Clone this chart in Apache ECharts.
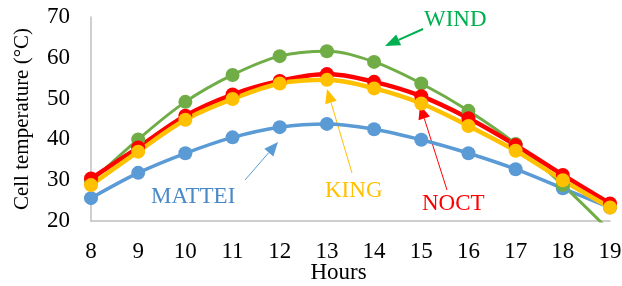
<!DOCTYPE html>
<html>
<head>
<meta charset="utf-8">
<script src="https://cdn.jsdelivr.net/npm/echarts@6/dist/echarts.min.js"></script>
<style>
  html, body { margin: 0; padding: 0; background: #fff; }
  #chart { width: 622px; height: 286px; }
</style>
</head>
<body>
<div id="chart"></div>
<script>
var hours = ['8', '9', '10', '11', '12', '13', '14', '15', '16', '17', '18', '19'];
var mattei = [25.6, 31.8, 36.6, 40.5, 43.0, 43.8, 42.5, 39.9, 36.6, 32.7, 28.0, 23.3];
var wind   = [29.6, 40.0, 49.2, 55.8, 60.4, 61.6, 59.0, 53.7, 47.0, 38.9, 28.8, 17.5];
var noct   = [30.4, 38.0, 45.8, 51.0, 54.3, 56.0, 54.1, 50.6, 45.2, 38.6, 31.3, 24.3];
var king   = [28.8, 37.0, 44.8, 49.9, 53.7, 54.6, 52.5, 48.8, 43.3, 37.2, 30.0, 23.3];

var serif = '"Liberation Serif", "Times New Roman", serif';

// small arrow: thin shaft plus a filled head at (x2, y2)
function arrow(x1, y1, x2, y2, color, w, len, half) {
    var dx = x2 - x1, dy = y2 - y1;
    var d = Math.sqrt(dx * dx + dy * dy);
    var ux = dx / d, uy = dy / d;
    var bx = x2 - ux * len, by = y2 - uy * len;
    return {
        type: 'group',
        children: [
            { type: 'line', shape: { x1: x1, y1: y1, x2: bx, y2: by },
              style: { stroke: color, lineWidth: w } },
            { type: 'polygon',
              shape: { points: [[x2, y2], [bx - uy * half, by + ux * half], [bx + uy * half, by - ux * half]] },
              style: { fill: color } }
        ]
    };
}

function label(text, x, y, color) {
    return { type: 'text', x: x, y: y,
        style: { text: text, fill: color, font: '23px ' + serif, textAlign: 'left', textVerticalAlign: 'middle' } };
}

function line(name, data, color, width) {
    return {
        name: name, type: 'line', data: data, smooth: 0.35,
        symbol: 'circle', symbolSize: 14, clip: true,
        lineStyle: { color: color, width: width },
        itemStyle: { color: color }
    };
}

var myChart = echarts.init(document.getElementById('chart'));
myChart.setOption({
    animation: false,
    grid: { left: 91, right: 12, top: 17, bottom: 65, outerBoundsMode: 'none', containLabel: false },
    xAxis: {
        type: 'category', data: hours, boundaryGap: false,
        name: 'Hours', nameLocation: 'middle', nameGap: 40, nameMoveOverlap: false,
        nameTextStyle: { fontFamily: serif, fontSize: 23, color: '#000', padding: [0, 24, 0, 0] },
        axisLine: { lineStyle: { color: '#bfbfbf', width: 1.5 } },
        axisTick: { show: false },
        axisLabel: { fontFamily: serif, fontSize: 23, color: '#000', margin: 19 }
    },
    yAxis: {
        type: 'value', min: 20, max: 70, interval: 10,
        name: 'Cell temperature (°C)', nameLocation: 'middle', nameGap: 58, nameMoveOverlap: false,
        nameTextStyle: { fontFamily: serif, fontSize: 21, color: '#000' },
        axisLine: { show: true, lineStyle: { color: '#bfbfbf', width: 1.5 } },
        axisTick: { show: false },
        splitLine: { show: false },
        axisLabel: { fontFamily: serif, fontSize: 23, color: '#000', margin: 21 }
    },
    series: [
        line('MATTEI', mattei, '#5b9bd5', 3.5),
        line('WIND', wind, '#70ad47', 3),
        line('NOCT', noct, '#ff0000', 4.5),
        line('KING', king, '#ffc000', 4.5)
    ],
    graphic: [
        label('WIND', 424, 20, '#00b050'),
        arrow(423, 29, 385, 46, '#00b050', 2, 15, 6),
        label('MATTEI', 151, 197, '#4a89c8'),
        arrow(245, 180, 278, 142, '#5b9bd5', 1, 14, 6),
        label('KING', 325, 191, '#ffc000'),
        arrow(352, 173, 327, 89, '#ffc000', 1, 14, 6),
        label('NOCT', 422, 204, '#ff0000'),
        arrow(447, 190, 420, 105, '#ff0000', 1, 14, 6)
    ]
});
</script>
</body>
</html>
